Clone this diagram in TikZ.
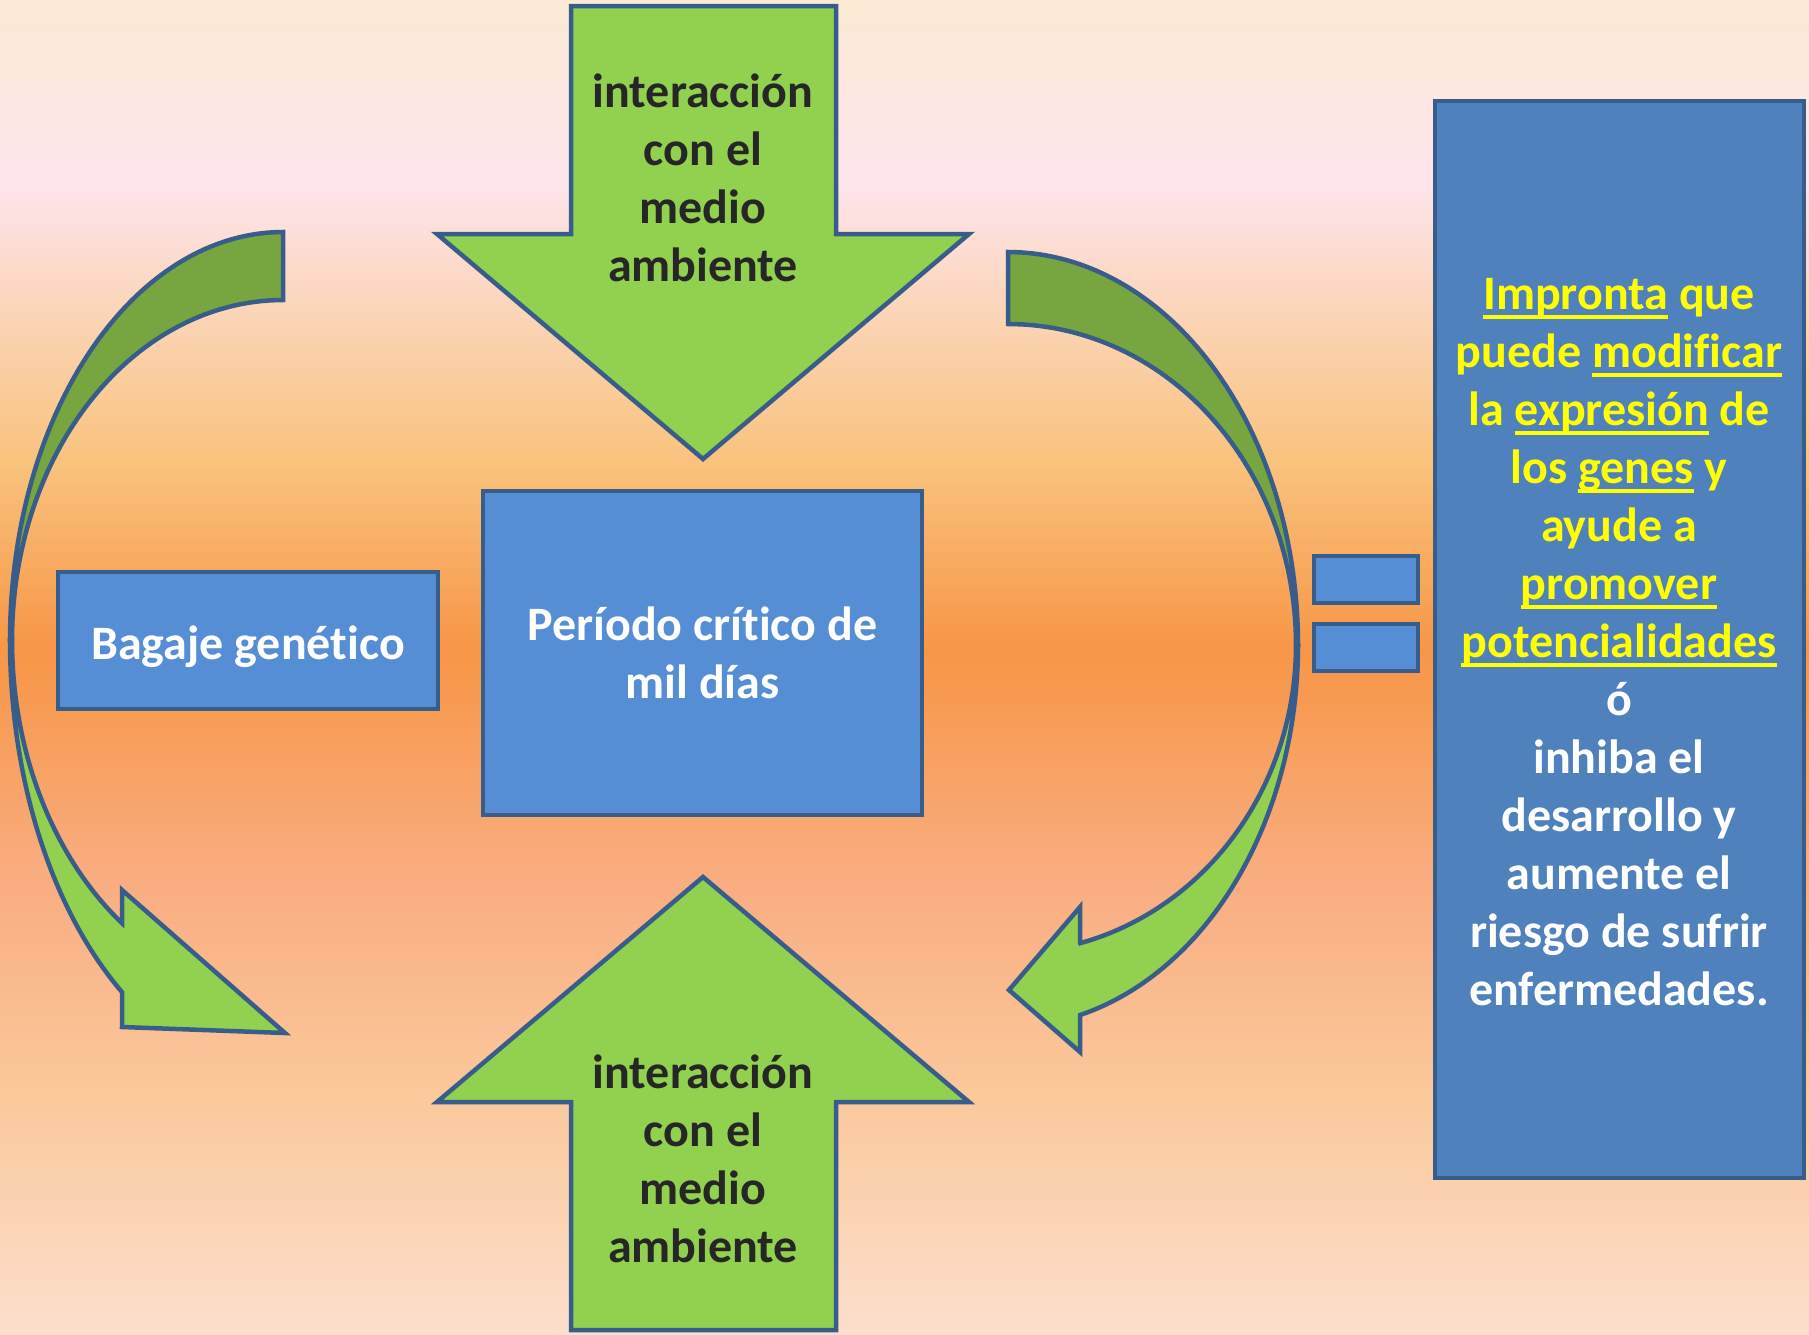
\documentclass[tikz,border=0pt]{standalone}
\usepackage{fontspec}
\setmainfont{Carlito}[Ligatures=NoCommon]

\definecolor{lineblue}{HTML}{385D8A}
\definecolor{leafgreen}{HTML}{92D050}
\definecolor{olivegreen}{HTML}{77A640}
\definecolor{boxblue}{HTML}{558ED5}
\definecolor{panelblue}{HTML}{4F81BD}
\definecolor{hlyellow}{HTML}{FFFF00}
\definecolor{inkgray}{HTML}{262626}
\definecolor{bgA}{HTML}{FBEAD4}
\definecolor{bgB}{HTML}{FDE5EC}
\definecolor{bgC}{HTML}{F9C37E}
\definecolor{bgD}{HTML}{F79646}
\definecolor{bgE}{HTML}{F9AD80}
\definecolor{bgF}{HTML}{FAC99C}
\definecolor{bgG}{HTML}{FCDFCC}

\pgfdeclareverticalshading{bgfade}{100bp}{color(0bp)=(bgG); color(25bp)=(bgG);
  color(33.8bp)=(bgF); color(42bp)=(bgE); color(50.6bp)=(bgD);
  color(57.8bp)=(bgC); color(68.2bp)=(bgB); color(75bp)=(bgA); color(100bp)=(bgA)}

\newcommand\bigtext{\fontsize{48}{58}\selectfont\bfseries}
\newcommand\yel[1]{\textcolor{hlyellow}{#1}}
\newcommand\undr[1]{\setbox0\hbox{#1}\rlap{\rule[-9.5pt]{\wd0}{3.5pt}}\box0\relax}

\tikzset{
  outline/.style={draw=lineblue, line width=4.5pt},
  lightarrow/.style={outline, fill=leafgreen},
  darkarrow/.style={outline, fill=olivegreen},
  bluebox/.style={outline, fill=boxblue, text=white, font=\bigtext, align=center},
  arrowtext/.style={text=inkgray, font=\bigtext, align=center},
}

\begin{document}
\begin{tikzpicture}[x=1pt, y=-1pt, samples=60]
\useasboundingbox (0,0) rectangle (1809,1334);
\shade[shading=bgfade] (0,0) rectangle (1809,1334);

% straight arrows
\filldraw[lightarrow] (571,6) -- (836,6) -- (836,234) -- (969,234) -- (703,459) -- (437,234) -- (571,234) -- cycle;
\filldraw[lightarrow] (703,877) -- (969,1102) -- (836,1102) -- (836,1330) -- (571,1330) -- (571,1102) -- (437,1102) -- cycle;
\node[arrowtext] (medioArriba) at (703,178) {interacción\\con el\\medio\\ambiente};
\node[arrowtext] (medioAbajo) at (703,1159) {interacción\\con el\\medio\\ambiente};

% left curved arrow
\filldraw[darkarrow] (283,232) -- plot[domain=270:180] ({283+273*cos(\x)},{640+408*sin(\x)})
  -- plot[domain=180:270] ({283+271*cos(\x)},{640+340*sin(\x)}) -- cycle;
\filldraw[lightarrow] plot[domain=180:126.1] ({283+273*cos(\x)},{640+436*sin(\x)})
  -- (122,1027) -- (285,1033) -- (122,890) -- (122,923)
  -- plot[domain=126.45:180] ({283+271*cos(\x)},{640+352*sin(\x)}) -- cycle;

% right curved arrow
\filldraw[darkarrow] (1008,252) -- plot[domain=-90:0] ({1008+290*cos(\x)},{645+393*sin(\x)})
  -- plot[domain=0:-90] ({1008+288*cos(\x)},{645+321*sin(\x)}) -- cycle;
\filldraw[lightarrow] plot[domain=0:75.6] ({1008+290*cos(\x)},{645+382*sin(\x)})
  -- (1080,1052) -- (1009,990) -- (1080,907) -- (1080,943)
  -- plot[domain=75.5:0] ({1008+288*cos(\x)},{645+308*sin(\x)}) -- cycle;

% boxes
\node[bluebox, minimum width=439pt, minimum height=324pt] (critico) at (702.5,653) {Período crítico de\\mil días};
\node[bluebox, minimum width=380pt, minimum height=137pt] (bagaje) at (248,640.5) {\raisebox{-6pt}[\height][\depth]{Bagaje genético}};
\node[bluebox, minimum width=104pt, minimum height=47pt] (igualA) at (1366,579.5) {};
\node[bluebox, minimum width=104pt, minimum height=47pt] (igualB) at (1366,647.5) {};
\node[bluebox, fill=panelblue, minimum width=369pt, minimum height=1077pt] (impronta) at (1619.5,639.5) {};
\node[text=white, font=\bigtext, align=center] (improntaTexto) at (1619,642)
  {\yel{\undr{Impronta} que}\\
   \yel{puede \undr{modificar}}\\
   \yel{la \undr{expresión} de}\\
   \yel{los \undr{genes} y}\\
   \yel{ayude a}\\
   \yel{\undr{promover}}\\
   \yel{\undr{potencialidades}}\\
   ó\\
   inhiba el\\
   desarrollo y\\
   aumente el\\
   riesgo de sufrir\\
   enfermedades.};
\end{tikzpicture}
\end{document}
